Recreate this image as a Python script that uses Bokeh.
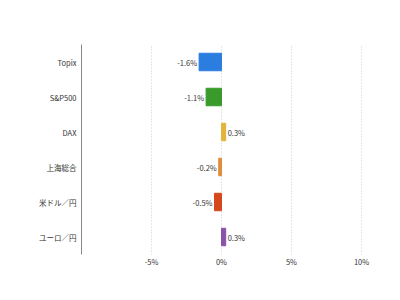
from bokeh.plotting import figure
from bokeh.models import ColumnDataSource, FixedTicker, PrintfTickFormatter, Range1d
from bokeh.core.properties import value
from bokeh.embed import file_html
from bokeh.resources import INLINE

categories = ["Topix", "S&P500", "DAX", "上海総合", "米ドル／円", "ユーロ／円"]
values = [-1.6, -1.1, 0.3, -0.2, -0.5, 0.3]
colors = ["#2b7de0", "#3a9b2c", "#e3b43a", "#e08d3a", "#d5481c", "#8a52a8"]
ticks = [-5, 0, 5, 10]

FONT = "Noto Sans CJK JP"

labels = [f"{v:.1f}%" for v in values]
aligns = ["right" if v < 0 else "left" for v in values]
offs = [-2 if v < 0 else 2 for v in values]

src = ColumnDataSource(dict(cat=categories, val=values, color=colors,
                            label=labels, align=aligns, off=offs))

p = figure(width=400, height=300, y_range=list(reversed(categories)),
           x_range=Range1d(-10, 12), output_backend="svg", toolbar_location=None,
           min_border_left=81, min_border_right=11, min_border_top=44, min_border_bottom=46)
p.outline_line_color = None
p.background_fill_color = "white"

p.hbar(y="cat", left=0, right="val", height=0.5, color="color", source=src)
p.text(x="val", y="cat", text="label", text_align="align", x_offset="off",
       text_baseline="middle", text_font_size="7.5px", text_color="#333333",
       text_font=value(FONT), source=src)

p.ygrid.grid_line_color = None
p.xgrid.ticker = FixedTicker(ticks=ticks)
p.xgrid.grid_line_color = "#cccccc"
p.xgrid.grid_line_dash = "1 2"

p.xaxis.ticker = FixedTicker(ticks=ticks)
p.xaxis.formatter = PrintfTickFormatter(format="%d%%")
p.xaxis.axis_line_color = None
p.xaxis.major_tick_line_color = None
p.xaxis.minor_tick_line_color = None
p.xaxis.major_tick_out = 0
p.xaxis.minor_tick_out = 0
p.xaxis.major_label_standoff = 1
p.xaxis.major_label_text_font_size = "7.5px"
p.xaxis.major_label_text_color = "#333333"
p.xaxis.major_label_text_font = FONT

p.yaxis.axis_line_color = "#888888"
p.yaxis.major_tick_line_color = None
p.yaxis.minor_tick_line_color = None
p.yaxis.major_tick_out = 0
p.yaxis.minor_tick_out = 0
p.yaxis.major_label_standoff = 5
p.yaxis.major_label_text_font_size = "7.5px"
p.yaxis.major_label_text_color = "#333333"
p.yaxis.major_label_text_font = FONT

open("out.html", "w").write(file_html(p, INLINE))
